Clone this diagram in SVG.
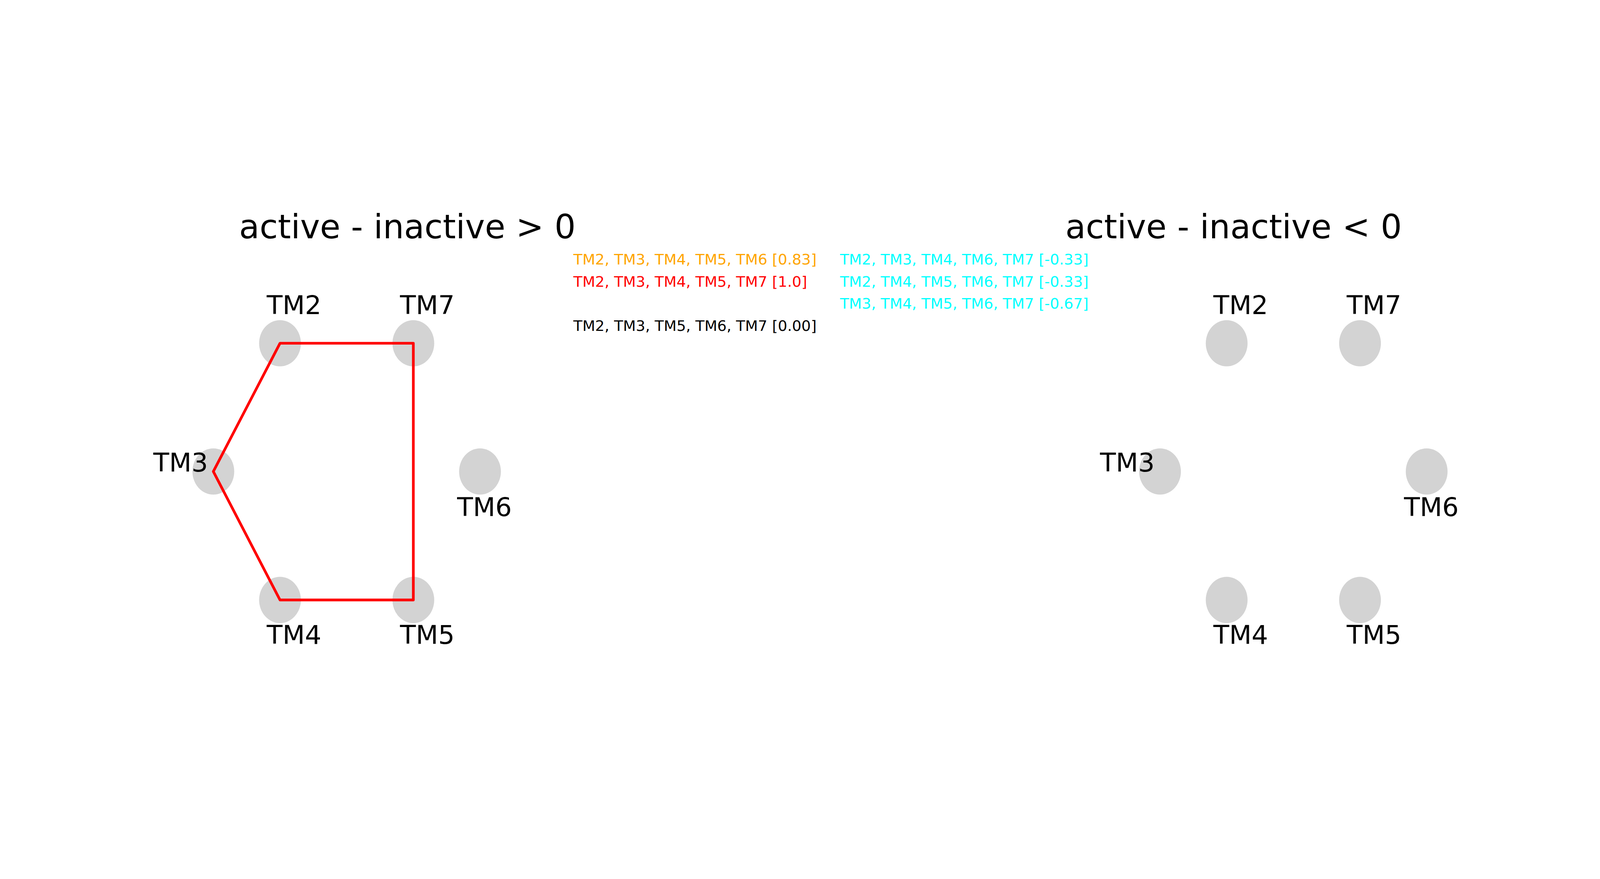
<svg xmlns="http://www.w3.org/2000/svg" width="7200" height="2250" viewBox="0 0 7200 2250">
<style>
svg:root{width:100vw;height:100vh;}
text{font-family:"DejaVu Sans","Liberation Sans",sans-serif;}
.title{font-size:150px;fill:#000;}
.lbl{font-size:116.7px;fill:#000;}
.leg{font-size:66.7px;}
.node{fill:#D3D3D3;}
.edge{fill:none;stroke:#FF0000;stroke-width:12;stroke-linejoin:round;}
</style>
<rect width="7200" height="2250" fill="#fff"/>
<text class="title" x="1076" y="220">active - inactive &gt; 0</text>
<text class="title" x="4794" y="220">active - inactive &lt; 0</text>
<g id="legend">
<text class="leg" x="2580" y="337" fill="#FFA500">TM2, TM3, TM4, TM5, TM6 [0.83]</text>
<text class="leg" x="2580" y="437" fill="#FF0000">TM2, TM3, TM4, TM5, TM7 [1.0]</text>
<text class="leg" x="2580" y="637" fill="#000000">TM2, TM3, TM5, TM6, TM7 [0.00]</text>
<text class="leg" x="3780" y="337" fill="#00FFFF">TM2, TM3, TM4, TM6, TM7 [-0.33]</text>
<text class="leg" x="3780" y="437" fill="#00FFFF">TM2, TM4, TM5, TM6, TM7 [-0.33]</text>
<text class="leg" x="3780" y="537" fill="#00FFFF">TM3, TM4, TM5, TM6, TM7 [-0.67]</text>
</g>
<g id="left-nodes">
<g id="L-TM2"><ellipse class="node" cx="1260" cy="692" rx="94" ry="104"/><text class="lbl" x="1200" y="560">TM2</text></g>
<g id="L-TM7"><ellipse class="node" cx="1860" cy="692" rx="94" ry="104"/><text class="lbl" x="1800" y="560">TM7</text></g>
<g id="L-TM3"><ellipse class="node" cx="960" cy="1269" rx="94" ry="104"/><text class="lbl" x="690" y="1270">TM3</text></g>
<g id="L-TM6"><ellipse class="node" cx="2160" cy="1269" rx="94" ry="104"/><text class="lbl" x="2057" y="1469">TM6</text></g>
<g id="L-TM4"><ellipse class="node" cx="1260" cy="1847" rx="94" ry="104"/><text class="lbl" x="1200" y="2044">TM4</text></g>
<g id="L-TM5"><ellipse class="node" cx="1860" cy="1847" rx="94" ry="104"/><text class="lbl" x="1800" y="2044">TM5</text></g>
</g>
<g id="connectors">
<path class="edge" d="M1260,692 L1860,692 L1860,1847 L1260,1847 L960,1269 Z"/>
</g>
<g id="right-nodes">
<g id="R-TM2"><ellipse class="node" cx="5520" cy="692" rx="94" ry="104"/><text class="lbl" x="5460" y="560">TM2</text></g>
<g id="R-TM7"><ellipse class="node" cx="6120" cy="692" rx="94" ry="104"/><text class="lbl" x="6060" y="560">TM7</text></g>
<g id="R-TM3"><ellipse class="node" cx="5220" cy="1269" rx="94" ry="104"/><text class="lbl" x="4950" y="1270">TM3</text></g>
<g id="R-TM6"><ellipse class="node" cx="6420" cy="1269" rx="94" ry="104"/><text class="lbl" x="6318" y="1469">TM6</text></g>
<g id="R-TM4"><ellipse class="node" cx="5520" cy="1847" rx="94" ry="104"/><text class="lbl" x="5460" y="2044">TM4</text></g>
<g id="R-TM5"><ellipse class="node" cx="6120" cy="1847" rx="94" ry="104"/><text class="lbl" x="6060" y="2044">TM5</text></g>
</g>
</svg>
